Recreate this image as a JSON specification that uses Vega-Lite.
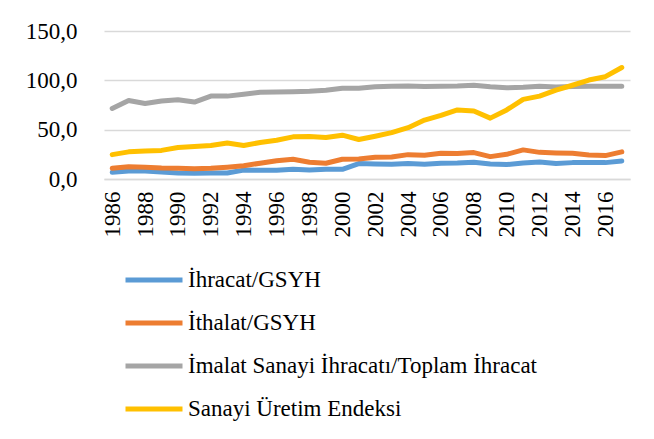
{
  "$schema": "https://vega.github.io/schema/vega-lite/v6.json",
  "width": 526,
  "height": 148,
  "autosize": {"type": "none"},
  "padding": {"left": 104, "top": 31, "right": 24, "bottom": 260},
  "background": "white",
  "config": {
    "view": {"stroke": null},
    "font": "Liberation Serif"
  },
  "data": {
    "values": [
      {"year":1986,"İhracat/GSYH":6.8,"İthalat/GSYH":10.8,"İmalat Sanayi İhracatı/Toplam İhracat":71.5,"Sanayi Üretim Endeksi":24.7},
      {"year":1987,"İhracat/GSYH":8.0,"İthalat/GSYH":12.5,"İmalat Sanayi İhracatı/Toplam İhracat":79.5,"Sanayi Üretim Endeksi":27.5},
      {"year":1988,"İhracat/GSYH":8.0,"İthalat/GSYH":11.9,"İmalat Sanayi İhracatı/Toplam İhracat":76.5,"Sanayi Üretim Endeksi":28.5},
      {"year":1989,"İhracat/GSYH":7.0,"İthalat/GSYH":11.2,"İmalat Sanayi İhracatı/Toplam İhracat":79.0,"Sanayi Üretim Endeksi":29.0},
      {"year":1990,"İhracat/GSYH":6.0,"İthalat/GSYH":11.0,"İmalat Sanayi İhracatı/Toplam İhracat":80.3,"Sanayi Üretim Endeksi":32.0},
      {"year":1991,"İhracat/GSYH":5.8,"İthalat/GSYH":10.5,"İmalat Sanayi İhracatı/Toplam İhracat":78.0,"Sanayi Üretim Endeksi":33.0},
      {"year":1992,"İhracat/GSYH":6.0,"İthalat/GSYH":10.8,"İmalat Sanayi İhracatı/Toplam İhracat":84.0,"Sanayi Üretim Endeksi":34.0},
      {"year":1993,"İhracat/GSYH":6.0,"İthalat/GSYH":12.0,"İmalat Sanayi İhracatı/Toplam İhracat":84.0,"Sanayi Üretim Endeksi":36.5},
      {"year":1994,"İhracat/GSYH":9.0,"İthalat/GSYH":13.5,"İmalat Sanayi İhracatı/Toplam İhracat":86.0,"Sanayi Üretim Endeksi":34.0},
      {"year":1995,"İhracat/GSYH":8.8,"İthalat/GSYH":16.0,"İmalat Sanayi İhracatı/Toplam İhracat":88.0,"Sanayi Üretim Endeksi":37.0},
      {"year":1996,"İhracat/GSYH":8.8,"İthalat/GSYH":18.5,"İmalat Sanayi İhracatı/Toplam İhracat":88.2,"Sanayi Üretim Endeksi":39.3},
      {"year":1997,"İhracat/GSYH":9.8,"İthalat/GSYH":20.0,"İmalat Sanayi İhracatı/Toplam İhracat":88.5,"Sanayi Üretim Endeksi":42.7},
      {"year":1998,"İhracat/GSYH":9.0,"İthalat/GSYH":17.0,"İmalat Sanayi İhracatı/Toplam İhracat":89.0,"Sanayi Üretim Endeksi":43.0},
      {"year":1999,"İhracat/GSYH":10.0,"İthalat/GSYH":16.0,"İmalat Sanayi İhracatı/Toplam İhracat":90.0,"Sanayi Üretim Endeksi":42.0},
      {"year":2000,"İhracat/GSYH":9.8,"İthalat/GSYH":20.0,"İmalat Sanayi İhracatı/Toplam İhracat":92.0,"Sanayi Üretim Endeksi":44.4},
      {"year":2001,"İhracat/GSYH":15.6,"İthalat/GSYH":20.3,"İmalat Sanayi İhracatı/Toplam İhracat":92.0,"Sanayi Üretim Endeksi":40.0},
      {"year":2002,"İhracat/GSYH":15.2,"İthalat/GSYH":22.0,"İmalat Sanayi İhracatı/Toplam İhracat":93.5,"Sanayi Üretim Endeksi":43.4},
      {"year":2003,"İhracat/GSYH":15.0,"İthalat/GSYH":22.4,"İmalat Sanayi İhracatı/Toplam İhracat":94.0,"Sanayi Üretim Endeksi":47.0},
      {"year":2004,"İhracat/GSYH":15.6,"İthalat/GSYH":24.7,"İmalat Sanayi İhracatı/Toplam İhracat":94.3,"Sanayi Üretim Endeksi":52.0},
      {"year":2005,"İhracat/GSYH":15.0,"İthalat/GSYH":24.0,"İmalat Sanayi İhracatı/Toplam İhracat":93.8,"Sanayi Üretim Endeksi":59.7},
      {"year":2006,"İhracat/GSYH":16.0,"İthalat/GSYH":26.0,"İmalat Sanayi İhracatı/Toplam İhracat":94.0,"Sanayi Üretim Endeksi":64.4},
      {"year":2007,"İhracat/GSYH":16.3,"İthalat/GSYH":25.8,"İmalat Sanayi İhracatı/Toplam İhracat":94.3,"Sanayi Üretim Endeksi":70.0},
      {"year":2008,"İhracat/GSYH":17.0,"İthalat/GSYH":26.8,"İmalat Sanayi İhracatı/Toplam İhracat":95.0,"Sanayi Üretim Endeksi":69.0},
      {"year":2009,"İhracat/GSYH":15.3,"İthalat/GSYH":22.7,"İmalat Sanayi İhracatı/Toplam İhracat":93.5,"Sanayi Üretim Endeksi":61.7},
      {"year":2010,"İhracat/GSYH":14.6,"İthalat/GSYH":25.0,"İmalat Sanayi İhracatı/Toplam İhracat":92.5,"Sanayi Üretim Endeksi":70.0},
      {"year":2011,"İhracat/GSYH":16.3,"İthalat/GSYH":29.5,"İmalat Sanayi İhracatı/Toplam İhracat":93.0,"Sanayi Üretim Endeksi":80.7},
      {"year":2012,"İhracat/GSYH":17.3,"İthalat/GSYH":27.0,"İmalat Sanayi İhracatı/Toplam İhracat":94.0,"Sanayi Üretim Endeksi":84.0},
      {"year":2013,"İhracat/GSYH":15.6,"İthalat/GSYH":26.4,"İmalat Sanayi İhracatı/Toplam İhracat":93.3,"Sanayi Üretim Endeksi":90.0},
      {"year":2014,"İhracat/GSYH":16.6,"İthalat/GSYH":26.0,"İmalat Sanayi İhracatı/Toplam İhracat":93.8,"Sanayi Üretim Endeksi":95.0},
      {"year":2015,"İhracat/GSYH":16.6,"İthalat/GSYH":24.4,"İmalat Sanayi İhracatı/Toplam İhracat":94.0,"Sanayi Üretim Endeksi":100.3},
      {"year":2016,"İhracat/GSYH":16.6,"İthalat/GSYH":23.7,"İmalat Sanayi İhracatı/Toplam İhracat":94.0,"Sanayi Üretim Endeksi":103.7},
      {"year":2017,"İhracat/GSYH":18.3,"İthalat/GSYH":27.5,"İmalat Sanayi İhracatı/Toplam İhracat":94.0,"Sanayi Üretim Endeksi":113.0}
    ]
  },
  "transform": [
    {"fold": ["İhracat/GSYH", "İthalat/GSYH", "İmalat Sanayi İhracatı/Toplam İhracat", "Sanayi Üretim Endeksi"], "as": ["series", "value"]}
  ],
  "mark": {"type": "line", "strokeWidth": 5, "strokeCap": "round", "strokeJoin": "round"},
  "encoding": {
    "x": {
      "field": "year", "type": "ordinal",
      "scale": {"type": "point", "padding": 0.5},
      "axis": {
        "title": null,
        "values": [1986,1988,1990,1992,1994,1996,1998,2000,2002,2004,2006,2008,2010,2012,2014,2016],
        "labelAngle": -90, "labelFontSize": 23, "labelColor": "black", "labelFont": "Liberation Serif",
        "labelPadding": 12, "ticks": false, "domainColor": "#d9d9d9", "domainWidth": 1.3, "grid": false
      }
    },
    "y": {
      "field": "value", "type": "quantitative",
      "scale": {"domain": [0, 150], "nice": false},
      "axis": {
        "title": null, "values": [0, 50, 100, 150],
        "labelExpr": "replace(format(datum.value, '.1f'), '.', ',')",
        "labelFontSize": 23, "labelColor": "black", "labelFont": "Liberation Serif",
        "labelPadding": 27, "ticks": false, "domain": false,
        "gridColor": "#d9d9d9", "gridWidth": 1.3
      }
    },
    "color": {
      "field": "series", "type": "nominal",
      "scale": {
        "domain": ["İhracat/GSYH", "İthalat/GSYH", "İmalat Sanayi İhracatı/Toplam İhracat", "Sanayi Üretim Endeksi"],
        "range": ["#5B9BD5", "#ED7D31", "#A5A5A5", "#FFC000"]
      },
      "legend": {
        "title": null, "orient": "none", "legendX": 19, "legendY": 218,
        "symbolType": "stroke", "symbolSize": 3249, "symbolStrokeWidth": 5,
        "labelFontSize": 23, "labelFont": "Liberation Serif", "labelColor": "black",
        "labelLimit": 600, "labelOffset": 3, "rowPadding": -16.5, "direction": "vertical"
      }
    }
  }
}
